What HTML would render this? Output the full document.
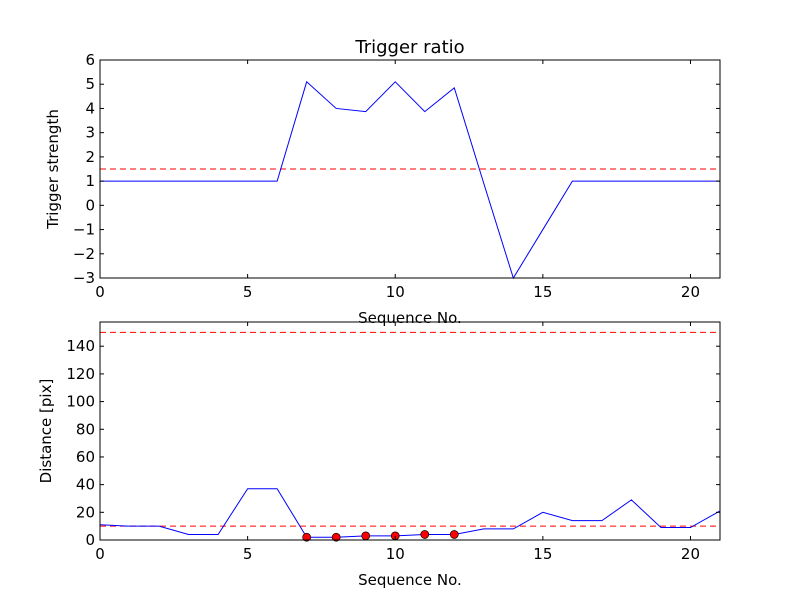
<!DOCTYPE html>
<html><head><meta charset="utf-8"><style>
body{margin:0;background:#fff;}
svg text{font-family:"DejaVu Sans","Liberation Sans",sans-serif;}
</style></head><body>
<svg id="c" width="800" height="600" xmlns="http://www.w3.org/2000/svg"></svg>
<script>
const seqNo=[0,1,2,3,4,5,6,7,8,9,10,11,12,13,14,15,16,17,18,19,20,21];
const strength=[1,1,1,1,1,1,1,5.1,4.0,3.87,5.1,3.87,4.85,0.9,-3,-1,1,1,1,1,1,1];
const strengthThreshold=1.5;
const distance=[11,10,10,4,4,37,37,2,2,3,3,4,4,8,8,20,14,14,29,9,9,21];
const hitIdx=[7,8,9,10,11,12];
const distThresholds=[150,10];
const xTicks=[0,5,10,15,20];
const topYTicks=[-3,-2,-1,0,1,2,3,4,5,6];
const botYTicks=[0,20,40,60,80,100,120,140];
const svg=document.getElementById('c');
const NS='http://www.w3.org/2000/svg';
function mk(t,a,p){const e=document.createElementNS(NS,t);for(const k in a)e.setAttribute(k,a[k]);(p||svg).appendChild(e);return e;}
function panel(name,top,bot,y0,y1,vals,ylabel,thr,title,dots){
  const L=100,R=720;
  const g=mk('g',{});
  
  
  const X=v=>L+(v-0)/21*(R-L);
  const Y=v=>bot-(v-y0)/(y1-y0)*(bot-top);
  thr.forEach(t=>{const l=mk('line',{x1:L,x2:R,y1:Y(t),y2:Y(t),stroke:'red','stroke-dasharray':'6,4','stroke-width':1},g);
    });
  const p=mk('polyline',{points:vals.map((v,i)=>X(seqNo[i])+','+Y(v)).join(' '),fill:'none',stroke:'blue','stroke-width':1},g);
  
  dots.forEach(i=>{const c=mk('circle',{cx:X(seqNo[i]),cy:Y(vals[i]),r:4,fill:'red',stroke:'#000','stroke-width':0.7},g);
    });
  const f=mk('rect',{x:L,y:top,width:R-L,height:bot-top,fill:'none',stroke:'#000','stroke-width':1},g);
  
  xTicks.forEach(t=>{const x=X(t);mk('line',{x1:x,x2:x,y1:bot,y2:bot-4,stroke:'#000'},g);mk('line',{x1:x,x2:x,y1:top,y2:top+4,stroke:'#000'},g);
    const tx=mk('text',{x:x,y:bot+19,'text-anchor':'middle','font-size':15},g);tx.textContent=t;
    });
  const yt=name==='top-panel'?topYTicks:botYTicks;
  yt.forEach(t=>{const y=Y(t);mk('line',{x1:L,x2:L+4,y1:y,y2:y,stroke:'#000'},g);mk('line',{x1:R,x2:R-4,y1:y,y2:y,stroke:'#000'},g);
    const tx=mk('text',{x:L-5,y:y+5,'text-anchor':'end','font-size':15},g);tx.textContent=String(t).replace('-','\u2212');
    });
  const xl=mk('text',{x:(L+R)/2,y:bot+45,'text-anchor':'middle','font-size':15},g);xl.textContent='Sequence No.';
  
  const yl=mk('text',{x:0,y:0,'text-anchor':'middle','font-size':15,transform:`translate(${name==='top-panel'?58:51},${(top+bot)/2}) rotate(-90)`},g);yl.textContent=ylabel;
  
  if(title){const tt=mk('text',{x:(L+R)/2,y:top-7,'text-anchor':'middle','font-size':18},g);tt.textContent=title;
    }
}
panel('bottom-panel',322,540,0,157.5,distance,'Distance [pix]',distThresholds,null,hitIdx);
panel('top-panel',60,278,-3,6,strength,'Trigger strength',[strengthThreshold],'Trigger ratio',[]);
</script>
</body></html>
